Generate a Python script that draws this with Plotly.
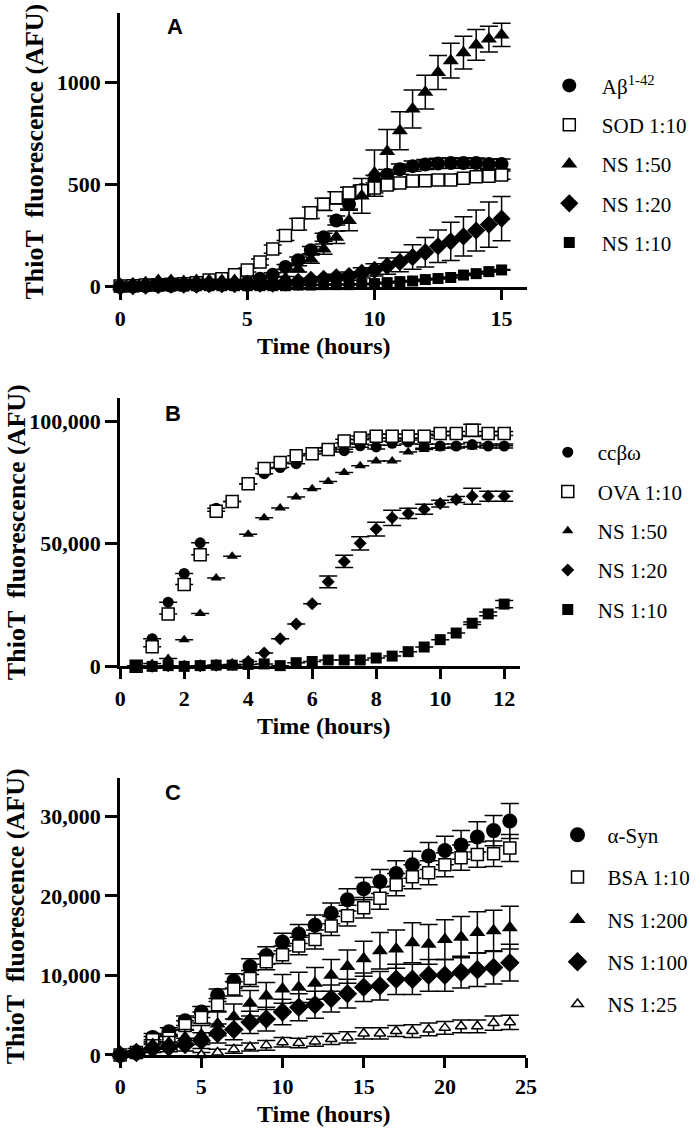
import plotly.graph_objects as go

# ---------------- Panel A data ----------------
a_time = [i * 0.5 for i in range(31)]
a_abeta = [0, 2, 3, 5, 5, 7, 8, 10, 10, 12, 20, 39, 58, 97, 130, 179, 242, 324, 405, 473, 520,
           548, 575, 590, 598, 603, 605, 605, 605, 600, 600]
a_abeta_err = [3] * 10 + [5, 8, 10, 12, 15, 18, 20, 22, 25, 25, 25, 25, 25, 25, 25, 25, 25, 25, 25, 25, 25]
a_sod = [3, 5, 8, 10, 12, 15, 20, 33, 39, 58, 82, 121, 184, 251, 306, 362, 403, 435, 459, 469, 483,
         498, 507, 517, 519, 522, 522, 531, 538, 541, 546]
a_sod_err = [3] * 7 + [5, 5, 8, 10, 15, 20, 25, 28, 28, 30, 30, 28, 25, 25, 22, 20, 20, 20, 20, 20, 20, 20, 20, 20]
a_ns50 = [0, 10, 20, 30, 30, 25, 30, 30, 30, 30, 25, 20, 20, 40, 87, 135, 184, 242, 324, 444, 556,
          662, 763, 870, 952, 1048, 1106, 1145, 1183, 1212, 1232]
a_ns50_err = [5] * 10 + [5, 5, 8, 10, 15, 20, 25, 30, 50, 85, 113, 107, 93, 93, 83, 83, 85, 80, 75, 63, 57]
a_ns20 = [0, 3, 5, 8, 10, 10, 10, 12, 12, 12, 12, 15, 15, 20, 24, 34, 39, 46, 52, 68, 82,
          101, 121, 145, 169, 198, 222, 246, 275, 304, 333]
a_ns20_err = [3] * 13 + [5, 5, 8, 10, 15, 20, 25, 30, 40, 48, 60, 72, 80, 94, 96, 100, 111, 108]
a_ns10 = [0, 0, 2, 3, 3, 3, 5, 5, 5, 5, 5, 5, 5, 5, 8, 8, 10, 10, 10, 12, 15,
          20, 25, 28, 35, 40, 45, 57, 64, 74, 82]
a_ns10_err = [2] * 31

# ---------------- Panel B data ----------------
b_time = [0.5 * (i + 1) for i in range(24)]
b_cc = [0, 11300, 26200, 37900, 50400, 64500, 67300, 74500, 78600, 81100, 82700, 86700,
        88500, 88000, 90000, 89500, 91000, 91500, 89800, 89900, 89900, 90500, 89900, 89900]
b_cc_err = [0] * 12 + [600, 600, 600, 800, 800, 800, 800, 800, 800, 800, 800, 800]
b_ova = [0, 8000, 21400, 33400, 45500, 63300, 67300, 74500, 80700, 83200, 85900, 86700,
         88500, 91900, 93200, 93900, 93900, 93900, 93900, 95000, 95000, 96300, 95000, 95000]
b_ova_err = [0] * 12 + [800, 800, 800, 800, 800, 800, 800, 800, 800, 2500, 800, 800]
b_ns50 = [0, 1200, 3200, 10900, 21600, 36100, 44900, 53900, 60600, 64600, 69100, 72500,
          75400, 79100, 81800, 83800, 83800, 87400, 88500, 89000, 89500, 89500, 90000, 90000]
b_ns50_err = [0] * 24
b_ns20 = [0, 0, 300, 0, 300, 500, 800, 2000, 5500, 11300, 17300, 25500,
          34500, 42800, 50200, 56000, 60600, 62400, 64100, 66400, 68100, 69400, 69400, 69400]
b_ns20_err = [0] * 12 + [2400, 2500, 2700, 2800, 3100, 2100, 2000, 1400, 1200, 3300, 2000, 2000]
b_ns10 = [0, 0, 300, 0, 300, 500, 500, 800, 1000, 300, 1500, 2000,
          2600, 2600, 2600, 3400, 4200, 6000, 7900, 10900, 13600, 17600, 21400, 25400]
b_ns10_err = [0] * 21 + [500, 800, 1500]

# ---------------- Panel C data ----------------
c_time = list(range(25))
c_syn = [0, 300, 2200, 2900, 4300, 5400, 7500, 9300, 11100, 12500, 14200, 15200, 16300, 17800,
         19500, 20900, 21800, 22800, 23900, 25000, 25700, 26400, 27400, 28200, 29400]
c_syn_err = [0, 200, 500, 500, 600, 700, 800, 900, 1000, 1100, 1100, 1200, 1300, 1300, 1400,
             1400, 1500, 1600, 1700, 1700, 1800, 1800, 1900, 1900, 2200]
c_bsa = [0, 300, 1900, 2100, 3700, 4700, 6300, 8300, 9600, 11700, 12600, 13700, 14500, 16200,
         17500, 18500, 19700, 21400, 22400, 22900, 23900, 24800, 25200, 25300, 26000]
c_bsa_err = [0, 200, 400, 500, 600, 700, 800, 900, 1000, 1000, 1100, 1100, 1200, 1200, 1300,
             1300, 1400, 1400, 1500, 1500, 1500, 1600, 1600, 1600, 1700]
c_ns200 = [0, 500, 1300, 1500, 2200, 2500, 3900, 4800, 6500, 7400, 8300, 8500, 9000, 10000,
           11100, 12100, 13100, 13300, 14100, 13900, 14500, 14800, 15400, 15600, 16000]
c_ns200_err = [0, 300, 600, 800, 1000, 1200, 1500, 1600, 1600, 1700, 1800, 1900, 2000, 2000,
               2100, 2200, 2300, 2400, 2500, 2500, 2500, 2600, 2600, 2600, 2700]
c_ns100 = [0, 300, 800, 1000, 1300, 1800, 2700, 3200, 4100, 4500, 5400, 6000, 6300, 7100,
           7700, 8500, 8700, 9500, 9500, 10000, 10000, 10400, 10700, 11000, 11600]
c_ns100_err = [0, 200, 500, 600, 800, 1000, 1200, 1300, 1400, 1500, 1600, 1700, 1700, 1700,
               1800, 1800, 1800, 1900, 1900, 2000, 2000, 2000, 2100, 2100, 2300]
c_ns25_time = list(range(5, 25))
c_ns25 = [0, 300, 700, 1000, 1200, 1600, 1500, 1700, 2000, 2200, 2700, 2700, 3000, 3000,
          3200, 3400, 3600, 3600, 4000, 4100]
c_ns25_err = [300, 400, 500, 500, 600, 600, 600, 600, 700, 700, 700, 700, 700, 800, 800,
              800, 800, 800, 900, 900]

SERIF = "Liberation Serif, Times New Roman, Times, DejaVu Serif, serif"
SANS = "Liberation Sans, Arial, Helvetica, sans-serif"

fig = go.Figure()


def add(x, y, err, name, symbol, size, xa, ya, legend, open_=False, group=None):
    fig.add_trace(go.Scatter(
        x=x, y=y, mode="markers", name=name, xaxis=xa, yaxis=ya, legend=legend,
        legendgroup=group or name,
        cliponaxis=False,
        marker=dict(symbol=symbol, size=size, color="white" if open_ else "black",
                    line=dict(color="black", width=1.5 if open_ else 0)),
        error_y=dict(type="data", array=err, visible=True, color="black",
                     thickness=1.5, width=9),
        showlegend=True,
    ))


# Panel A
add(a_time, a_abeta, a_abeta_err, "Aβ<sup>1-42</sup>", "circle", 14, "x", "y", "legend", group="a1")
add(a_time, a_sod, a_sod_err, "SOD 1:10", "square", 12, "x", "y", "legend", open_=True, group="a2")
add(a_time, a_ns50, a_ns50_err, "NS 1:50", "triangle-up", 14, "x", "y", "legend", group="a3")
add(a_time, a_ns20, a_ns20_err, "NS 1:20", "diamond", 14, "x", "y", "legend", group="a4")
add(a_time, a_ns10, a_ns10_err, "NS 1:10", "square", 11, "x", "y", "legend", group="a5")

# Panel B
add(b_time, b_cc, b_cc_err, "ccβω", "circle", 11, "x2", "y2", "legend2", group="b1")
add(b_time, b_ova, b_ova_err, "OVA 1:10", "square", 12, "x2", "y2", "legend2", open_=True, group="b2")
add(b_time, b_ns50, b_ns50_err, "NS 1:50", "triangle-up", 10, "x2", "y2", "legend2", group="b3")
add(b_time, b_ns20, b_ns20_err, "NS 1:20", "diamond", 10, "x2", "y2", "legend2", group="b4")
add(b_time, b_ns10, b_ns10_err, "NS 1:10", "square", 11, "x2", "y2", "legend2", group="b5")

# Panel C
add(c_time, c_syn, c_syn_err, "α-Syn", "circle", 15, "x3", "y3", "legend3", group="c1")
add(c_time, c_bsa, c_bsa_err, "BSA 1:10", "square", 12, "x3", "y3", "legend3", open_=True, group="c2")
add(c_time, c_ns200, c_ns200_err, "NS 1:200", "triangle-up", 14, "x3", "y3", "legend3", group="c3")
add(c_time, c_ns100, c_ns100_err, "NS 1:100", "diamond", 15, "x3", "y3", "legend3", group="c4")
add(c_ns25_time, c_ns25, c_ns25_err, "NS 1:25", "triangle-up", 10, "x3", "y3", "legend3", open_=True, group="c5")

W, H = 700, 1148
tickfont = dict(family=SERIF, size=22, color="black", weight="bold")
ax_common = dict(showline=True, linecolor="black", linewidth=3, ticks="outside",
                 tickwidth=3, tickcolor="black", showgrid=False, zeroline=False,
                 tickfont=tickfont)
xcommon = dict(ticklen=10, **ax_common)
ycommon = dict(ticklen=12, **ax_common)


def px_x(p):
    return p / W


def px_y(p):
    return 1 - p / H


fig.update_layout(
    width=W, height=H, margin=dict(l=0, r=0, t=0, b=0),
    plot_bgcolor="white", paper_bgcolor="white",
    font=dict(family=SERIF, color="black"),
    xaxis=dict(domain=[px_x(117), px_x(534)], range=[0, 16], tickvals=[0, 5, 10, 15],
               anchor="y", **xcommon),
    yaxis=dict(domain=[px_y(290), px_y(13)], range=[0, 1340], tickvals=[0, 500, 1000],
               anchor="x", **ycommon),
    xaxis2=dict(domain=[px_x(117), px_x(527)], range=[0, 12.5], tickvals=[0, 2, 4, 6, 8, 10, 12],
                anchor="y2", **xcommon),
    yaxis2=dict(domain=[px_y(674), px_y(403)], range=[0, 109300], tickvals=[0, 50000, 100000],
                tickformat=",d", anchor="x2", **ycommon),
    xaxis3=dict(domain=[px_x(117), px_x(533)], range=[0, 25], tickvals=[0, 5, 10, 15, 20, 25],
                anchor="y3", **xcommon),
    yaxis3=dict(domain=[px_y(1067), px_y(787)], range=[0, 34800],
                tickvals=[0, 10000, 20000, 30000], tickformat=",d", anchor="x3", **ycommon),
    showlegend=True,
)

leg_common = dict(font=dict(family=SERIF, size=21, color="black"),
                  bgcolor="rgba(0,0,0,0)", xanchor="left", yanchor="top",
                  itemsizing="trace", traceorder="grouped")
fig.update_layout(
    legend=dict(x=px_x(544), y=px_y(66), tracegroupgap=9, itemwidth=55, **leg_common),
    legend2=dict(x=px_x(545), y=px_y(437), tracegroupgap=9, itemwidth=50, **leg_common),
    legend3=dict(x=px_x(555), y=px_y(824), tracegroupgap=12, itemwidth=50, **leg_common),
)

annots = []
title_font = dict(family=SERIF, size=26, color="black", weight="bold")
xt_font = dict(family=SERIF, size=24, color="black", weight="bold")
for (yc, xc) in [(153, 29), ((403 + 674) / 2, 11), ((787 + 1067) / 2, 10)]:
    annots.append(dict(text="ThioT  fluorescence (AFU)", x=px_x(xc), y=px_y(yc), xref="paper",
                       yref="paper", showarrow=False, textangle=-90, font=title_font,
                       xanchor="center", yanchor="middle"))
for yc in [290 + 60, 674 + 60, 1067 + 60]:
    annots.append(dict(text="Time (hours)", x=px_x(326), y=px_y(yc), xref="paper", yref="paper",
                       showarrow=False, font=xt_font, xanchor="center", yanchor="middle"))
for (lab, xc, yc) in [("A", 173, 27), ("B", 171, 418), ("C", 171, 802)]:
    annots.append(dict(text=lab, x=px_x(xc), y=px_y(yc), xref="paper", yref="paper",
                       showarrow=False, xanchor="center", yanchor="middle",
                       font=dict(family=SANS, size=22, color="black", weight="bold")))
fig.update_layout(annotations=annots)

fig.write_html("out.html", config={"displayModeBar": False},
               post_script="document.body.style.margin='0px';")
